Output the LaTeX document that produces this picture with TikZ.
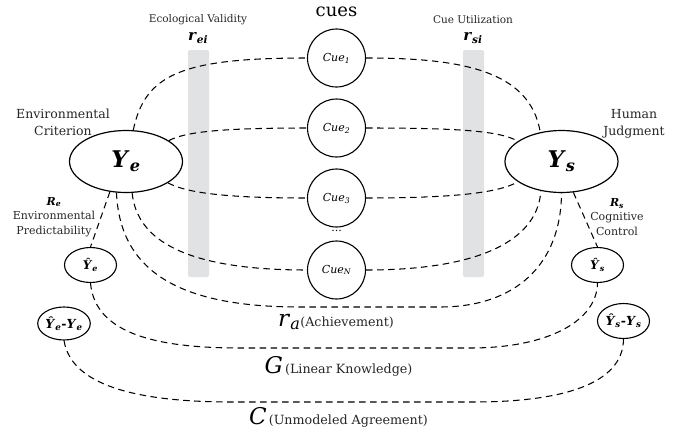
\documentclass[tikz,border=0pt]{standalone}
\usepackage{fontspec}
\setmainfont{DejaVu Serif}
\usetikzlibrary{shapes.geometric}
\definecolor{bargray}{HTML}{E1E2E4}
\definecolor{labgray}{HTML}{262626}
\newcommand{\mybi}[1]{\textbf{\textit{#1}}}
\newcommand{\fs}[1]{\fontsize{#1}{#1}\selectfont}
\tikzset{
  dsh/.style={draw, line width=1.05pt, dash pattern=on 6.5pt off 4.5pt},
  bigell/.style={ellipse, draw, line width=1.2pt, minimum width=113pt, minimum height=62pt, inner sep=0pt},
  smell/.style={ellipse, draw, line width=1.1pt, minimum width=52pt, minimum height=35pt, inner sep=0pt},
  cuenode/.style={circle, draw, line width=1.1pt, minimum size=58pt, inner sep=0pt, font=\fs{11}\itshape},
  bar/.style={fill=bargray, rounded corners=2pt},
  lbl/.style={text=labgray, align=center, inner sep=0pt},
}
\begin{document}
\begin{tikzpicture}[x=1pt, y=-1pt]
\useasboundingbox (0,0) rectangle (678,431);
% gray bars
\fill[bar] (188,50) rectangle (209,277);
\fill[bar] (463,50) rectangle (484,277);

% nodes
\node[bigell] (Ye) at (126,161.5) {\fs{23}\mybi{Y}\textsubscript{\mybi{e}}};
\node[bigell] (Ys) at (561.5,161.5) {\fs{23}\mybi{Y}\textsubscript{\mybi{s}}};
\node[cuenode] (c1) at (336.5,58) {Cue\textsubscript{1}};
\node[cuenode] (c2) at (336.5,128) {Cue\textsubscript{2}};
\node[cuenode] (c3) at (336.5,198) {Cue\textsubscript{3}};
\node[cuenode] (cN) at (336.5,270) {Cue\textsubscript{\textit{N}}};
\node[inner sep=0pt, font=\fs{11}] (dots) at (336.5,231) {...};
\node[smell] (he) at (90.5,265) {\fs{12}\mybi{Ŷ}\textsubscript{\mybi{e}}};
\node[smell] (hs) at (597.5,265) {\fs{12}\mybi{Ŷ}\textsubscript{\mybi{s}}};
\node[smell, minimum height=33pt] (de) at (64,323.5) {\fs{12.5}\mybi{Ŷ}\textsubscript{\mybi{e}}\textbf{-}\mybi{Y}\textsubscript{\mybi{e}}};
\node[smell] (ds) at (623.5,321) {\fs{12.5}\mybi{Ŷ}\textsubscript{\mybi{s}}\textbf{-}\mybi{Y}\textsubscript{\mybi{s}}};

% labels
\node[inner sep=0pt, font=\fs{18}] (cues) at (336.5,12) {cues};
\node[lbl, font=\fs{10.5}] (ev) at (198,20) {Ecological Validity};
\node[inner sep=0pt, font=\fs{15}] (rei) at (198,38) {\mybi{r}\textsubscript{\mybi{ei}}};
\node[lbl, font=\fs{10.5}] (cu) at (473,20) {Cue Utilization};
\node[inner sep=0pt, font=\fs{15}] (rsi) at (473,38) {\mybi{r}\textsubscript{\mybi{si}}};
\node[lbl, font=\fs{12.5}] (envc) at (63,122) {Environmental\\[4.5pt]Criterion};
\node[lbl, font=\fs{12.5}] (hj) at (634,124) {Human\\[4.5pt]Judgment};
\node[lbl, font=\fs{11}] (re) at (54,217) {\textcolor{black}{\mybi{R}\textsubscript{\mybi{e}}}\\[3.5pt]Environmental\\[3.5pt]Predictability};
\node[lbl, font=\fs{11}] (rs) at (617,217) {\textcolor{black}{\mybi{R}\textsubscript{\mybi{s}}}\\[3.5pt]Cognitive\\[3.5pt]Control};
\node[inner sep=0pt, anchor=base] (ra) at (336,326) {{\fs{23}\textit{r}\textsubscript{\textit{a}}}{\fs{12.7}\color{labgray}(Achievement)}};
\node[inner sep=0pt, anchor=base] (gl) at (338.5,373) {{\fs{23}\textit{G}}{\fs{12.7}\color{labgray}\,(Linear Knowledge)}};
\node[inner sep=0pt, anchor=base] (cl) at (338.5,424) {{\fs{23}\textit{C}}{\fs{12.7}\color{labgray}\,(Unmodeled Agreement)}};

% connectors left
\draw[dsh] (Ye.77) .. controls (145,75) and (180,58) .. (c1.west);
\draw[dsh] (Ye.26) .. controls (185,132) and (220,128) .. (c2.west);
\draw[dsh] (Ye.-27) .. controls (185,192) and (220,198) .. (c3.west);
\draw[dsh] (Ye.-79) .. controls (137,240) and (185,270) .. (cN.west);
% connectors right
\draw[dsh] (c1.east) .. controls (460,58) and (530,70) .. (Ys.126.5);
\draw[dsh] (c2.east) .. controls (460,128) and (500,131) .. (Ys.155);
\draw[dsh] (c3.east) .. controls (460,198) and (500,192) .. (Ys.-155);
\draw[dsh] (cN.east) .. controls (490,270) and (538,235) .. (Ys.-125);
% achievement arc
\draw[dsh] (Ye.-107.6) .. controls (120,275) and (185,307) .. (300,307) -- (440,307) .. controls (515,307) and (561,265) .. (Ys.south);
% predictability
\draw[dsh] (Ye.-118) -- (he.north);
\draw[dsh] (Ys.-69.5) -- (hs.north);
% G arc
\draw[dsh] (he.south) .. controls (95,335) and (160,348) .. (240,348) -- (470,348) .. controls (550,348) and (597,320) .. (hs.south);
% C arc
\draw[dsh] (de.south) .. controls (72,390) and (150,402) .. (233,402) -- (473,402) .. controls (560,402) and (623,385) .. (ds.south);
\end{tikzpicture}
\end{document}
